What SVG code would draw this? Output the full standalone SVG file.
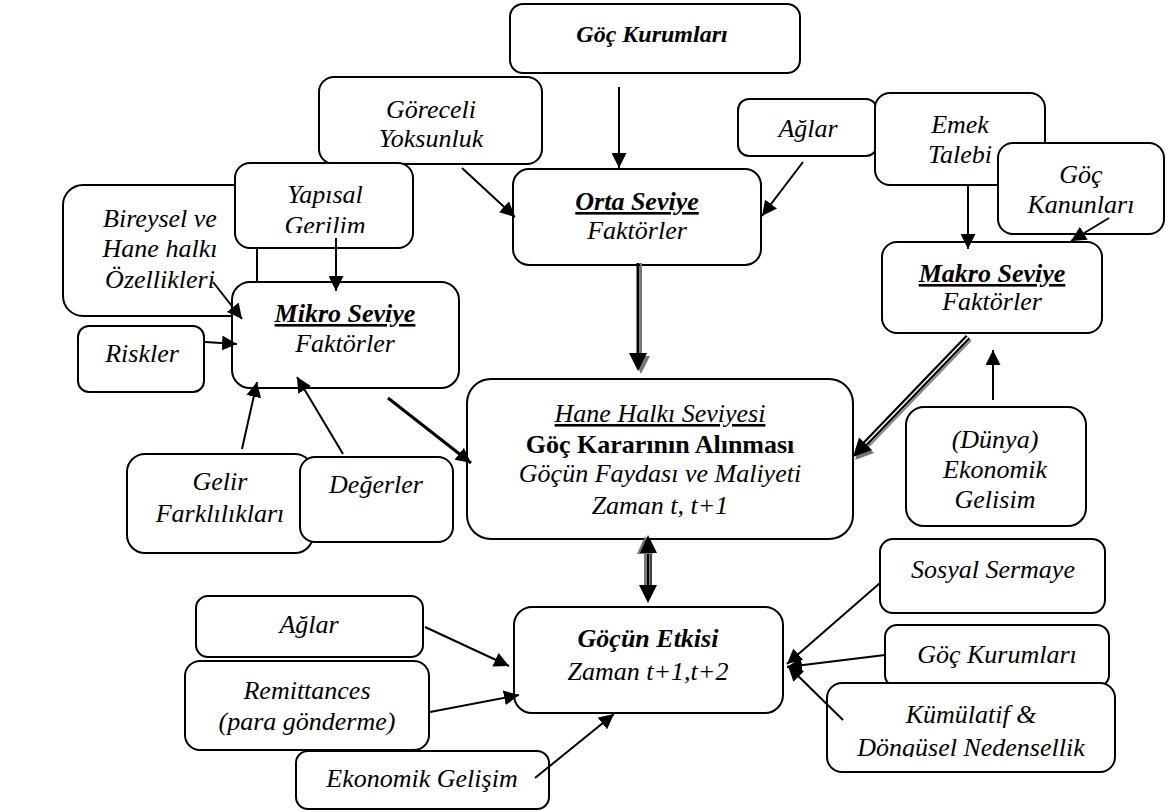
<svg xmlns="http://www.w3.org/2000/svg" width="1166" height="812" viewBox="0 0 1166 812" font-family="'Liberation Serif', 'Times New Roman', serif">
<defs>
<style>
text{font-family:'Liberation Serif','Times New Roman',serif}
.b{fill:#fff;stroke:#000;stroke-width:2}
.t{font-size:26px;font-style:italic;text-anchor:middle;fill:#000}
.bi{font-weight:bold}
.up{font-style:normal;font-weight:bold}
.u{text-decoration:underline}
.c{stroke:#000;stroke-width:2;fill:none}
</style>
<marker id="ah" viewBox="0 0 15 15" refX="15" refY="7.5" markerWidth="15" markerHeight="15" markerUnits="userSpaceOnUse" orient="auto"><path d="M0,0 L15,7.5 L0,15 z" fill="#000"/></marker>
<clipPath id="clipY"><rect x="235" y="163" width="180" height="70"/></clipPath>
<clipPath id="clipK"><rect x="827" y="683" width="290" height="74"/></clipPath>
</defs>
<rect width="1166" height="812" fill="#fff"/>

<g id="n-gocKurumlari-top"><rect class="b" x="510" y="4" width="290" height="69" rx="13"/><text class="t bi" x="652" y="42" style="font-size:24px">Göç Kurumları</text></g>
<g id="n-goreceli"><rect class="b" x="319" y="77" width="223" height="87" rx="15"/><text class="t" x="431" y="118">Göreceli</text><text class="t" x="431" y="147">Yoksunluk</text></g>
<g id="n-aglar-top"><rect class="b" x="738" y="99" width="139" height="57" rx="11"/><text class="t" x="808" y="137">Ağlar</text></g>
<g id="n-emek"><rect class="b" x="875" y="93" width="170" height="92" rx="15"/><text class="t" x="960" y="133">Emek</text><text class="t" x="960" y="163">Talebi</text></g>
<g id="n-kanun"><rect class="b" x="998" y="143" width="166" height="91" rx="15"/><text class="t" x="1081" y="183">Göç</text><text class="t" x="1081" y="213">Kanunları</text></g>
<g id="n-orta"><rect class="b" x="513" y="169" width="248" height="96" rx="16"/><text class="t bi u" x="637" y="210">Orta Seviye</text><text class="t" x="637" y="239">Faktörler</text></g>
<g id="n-makro"><rect class="b" x="882" y="242" width="220" height="91" rx="15"/><text class="t bi u" x="992" y="282">Makro Seviye</text><text class="t" x="992" y="310">Faktörler</text></g>
<g id="n-bireysel"><rect class="b" x="63" y="185" width="194" height="131" rx="20"/><text class="t" x="160" y="227">Bireysel ve</text><text class="t" x="160" y="257">Hane halkı</text><text class="t" x="160" y="288">Özellikleri</text></g>
<g id="n-yapisal"><rect class="b" x="235" y="163" width="178" height="85" rx="15"/><g clip-path="url(#clipY)"><text class="t" x="325" y="203">Yapısal</text><text class="t" x="325" y="234">Gerilim</text></g></g>
<g id="n-mikro"><rect class="b" x="232" y="282" width="227" height="106" rx="18"/><text class="t bi u" x="345" y="322">Mikro Seviye</text><text class="t" x="345" y="352">Faktörler</text></g>
<g id="n-riskler"><rect class="b" x="78" y="326" width="126" height="66" rx="11"/><text class="t" x="142" y="362">Riskler</text></g>
<g id="n-gelir"><rect class="b" x="127" y="454" width="186" height="99" rx="18"/><text class="t" x="220" y="490">Gelir</text><text class="t" x="220" y="522">Farklılıkları</text></g>
<g id="n-degerler"><rect class="b" x="300" y="457" width="153" height="85" rx="15"/><text class="t" x="376" y="493">Değerler</text></g>
<g id="n-hane"><rect class="b" x="467" y="379" width="386" height="160" rx="24"/><text class="t u" x="660" y="422">Hane Halkı Seviyesi</text><text class="t up" x="660" y="453">Göç Kararının Alınması</text><text class="t" x="660" y="482">Göçün Faydası ve Maliyeti</text><text class="t" x="660" y="514">Zaman t, t+1</text></g>
<g id="n-dunya"><rect class="b" x="906" y="407" width="180" height="119" rx="18"/><text class="t" x="995" y="448">(Dünya)</text><text class="t" x="995" y="478">Ekonomik</text><text class="t" x="995" y="508">Gelisim</text></g>
<g id="n-sosyal"><rect class="b" x="880" y="539" width="225" height="74" rx="13"/><text class="t" x="993" y="578">Sosyal Sermaye</text></g>
<g id="n-gocKurumlari-bot"><rect class="b" x="885" y="625" width="224" height="62" rx="12"/><text class="t" x="997" y="663">Göç Kurumları</text></g>
<g id="n-kumulatif"><rect class="b" x="827" y="683" width="288" height="89" rx="15"/><g clip-path="url(#clipK)"><text class="t" x="971" y="723">Kümülatif &amp;</text><text class="t" x="971" y="756">Döngüsel Nedensellik</text></g></g>
<g id="n-etkisi"><rect class="b" x="514" y="607" width="269" height="106" rx="18"/><text class="t bi" x="648" y="647">Göçün Etkisi</text><text class="t" x="648" y="680">Zaman t+1,t+2</text></g>
<g id="n-aglar-bot"><rect class="b" x="196" y="596" width="227" height="61" rx="12"/><text class="t" x="309" y="633">Ağlar</text></g>
<g id="n-remit"><rect class="b" x="185" y="661" width="244" height="89" rx="15"/><text class="t" x="307" y="699">Remittances</text><text class="t" x="307" y="730">(para gönderme)</text></g>
<g id="n-ekgelisim"><rect class="b" x="296" y="751" width="253" height="58" rx="12"/><text class="t" x="422" y="787">Ekonomik Gelişim</text></g>

<g id="connectors">
<line class="c" x1="619" y1="87" x2="619" y2="168" marker-end="url(#ah)"/>
<line class="c" x1="462" y1="168" x2="515" y2="217" marker-end="url(#ah)"/>
<line class="c" x1="803" y1="162" x2="762" y2="216" marker-end="url(#ah)"/>
<line class="c" x1="968" y1="185" x2="968" y2="249" marker-end="url(#ah)"/>
<line class="c" x1="1109" y1="218" x2="1071" y2="241" marker-end="url(#ah)"/>
<line class="c" x1="336" y1="238" x2="336" y2="291" marker-end="url(#ah)"/>
<line class="c" x1="213" y1="282" x2="242" y2="319" marker-end="url(#ah)"/>
<line class="c" x1="205" y1="342" x2="237" y2="344" marker-end="url(#ah)"/>
<line class="c" x1="242" y1="449" x2="257" y2="382" marker-end="url(#ah)"/>
<line class="c" x1="343" y1="454" x2="297" y2="377" marker-end="url(#ah)"/>
<line class="c" x1="388" y1="398" x2="471" y2="463" style="stroke-width:3" marker-end="url(#ah)"/>
<line class="c" x1="993" y1="400" x2="993" y2="350" marker-end="url(#ah)"/>
<line class="c" x1="880" y1="583" x2="787" y2="664" marker-end="url(#ah)"/>
<line class="c" x1="885" y1="655" x2="787" y2="667" marker-end="url(#ah)"/>
<line class="c" x1="843" y1="720" x2="788" y2="666" marker-end="url(#ah)"/>
<line class="c" x1="425" y1="627" x2="509" y2="666" marker-end="url(#ah)"/>
<line class="c" x1="430" y1="712" x2="519" y2="695" marker-end="url(#ah)"/>
<line class="c" x1="535" y1="778" x2="614" y2="714" marker-end="url(#ah)"/>
<g id="e-orta-hane">
<line x1="641" y1="263" x2="641" y2="356" stroke="#777" stroke-width="2"/>
<line x1="638" y1="263" x2="638" y2="356" stroke="#000" stroke-width="3"/>
<polygon points="632,356 650,356 641,374" fill="#777"/>
<polygon points="629,353 647,353 638,371" fill="#000"/>
</g>
<g id="e-makro-hane">
<line x1="971" y1="340" x2="868" y2="447" stroke="#888" stroke-width="2"/>
<line x1="968" y1="337" x2="865" y2="444" stroke="#000" stroke-width="6"/>
<line x1="968" y1="337" x2="865" y2="444" stroke="#fff" stroke-width="1.6"/>
<polygon points="855,460 861,440 874,453" fill="#777"/>
<polygon points="853,457 859,437.5 872,450" fill="#000"/>
</g>
<g id="e-hane-etkisi">
<line x1="645" y1="550" x2="645" y2="588" stroke="#777" stroke-width="2"/>
<line x1="648" y1="550" x2="648" y2="588" stroke="#000" stroke-width="3"/>
<line x1="651" y1="550" x2="651" y2="588" stroke="#000" stroke-width="1.5"/>
<polygon points="645,536 637,554 653,554" fill="#777"/>
<polygon points="648,535 640,553 657,553" fill="#000"/>
<polygon points="639,585 657,585 648,603" fill="#000"/>
</g>
</g>
</svg>
